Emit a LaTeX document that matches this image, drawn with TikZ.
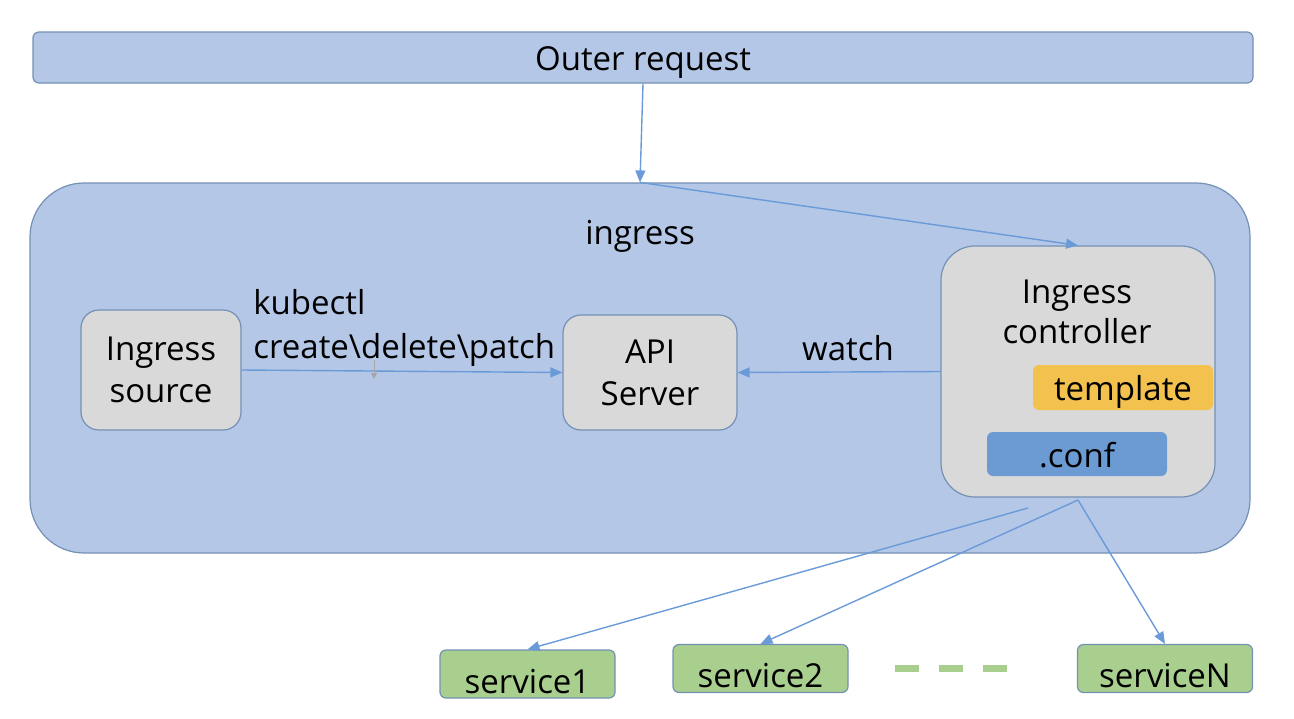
\documentclass[tikz,border=0pt]{standalone}
\usepackage{fontspec}
\setmainfont{Open Sans}
\usepackage{tikz}
\usetikzlibrary{arrows.meta, positioning, calc}
\definecolor{reqblue}{HTML}{B4C7E7}
\definecolor{edgeblue}{HTML}{7590B5}
\definecolor{boxgray}{HTML}{D9D9D9}
\definecolor{arrowblue}{HTML}{6A9BD8}
\definecolor{tmplyellow}{HTML}{F2C14E}
\definecolor{confblue}{HTML}{6B9BD2}
\definecolor{svcgreen}{HTML}{A9CF8E}

\begin{document}
\begin{tikzpicture}[
  x=0.5pt, y=-0.5pt,
  txt/.style={font=\fontsize{16.5}{21}\selectfont, align=center, inner sep=0pt},
  box/.style={txt, draw=edgeblue, fill=boxgray, line width=0.6pt, rounded corners=9pt},
  tag/.style={txt, rounded corners=3pt, minimum width=90pt, minimum height=22.5pt,
              text height=13pt, text depth=0pt},
  svc/.style={txt, draw=edgeblue, fill=svcgreen, line width=0.6pt, rounded corners=3pt,
              minimum width=87.5pt, minimum height=24pt, text height=19pt, text depth=0pt},
  arr/.style={-{Triangle[length=6pt,width=5pt]}, line width=0.7pt, draw=arrowblue}
]
\useasboundingbox (0,0) rectangle (1294,718);

% outer request and ingress area
\node[txt, draw=edgeblue, fill=reqblue, line width=0.6pt, rounded corners=3pt,
      minimum width=610pt, minimum height=25.5pt, text height=13pt, text depth=0pt]
      (req) at (643,57.5) {Outer request};
\node[draw=edgeblue, fill=reqblue, line width=0.6pt, rounded corners=27pt,
      minimum width=610pt, minimum height=185pt] (ingress) at (640,368) {};
\node[txt] (ingtitle) at (640,236) {ingress};

% boxes inside ingress
\node[box, minimum width=80pt, minimum height=60pt] (src) at (161,370) {Ingress\\source};
\node[box, minimum width=87pt, minimum height=57.5pt] (api) at (650,372.5) {API\\Server};
\node[box, rounded corners=17pt, minimum width=137pt, minimum height=125.5pt] (ctrl) at (1078,371.5) {};
\node[txt, font=\fontsize{16.5}{20}\selectfont] (ctrltitle) at (1077,312) {Ingress\\controller};
\node[tag, fill=tmplyellow] (tmpl) at (1123,387.5) {template};
\node[tag, fill=confblue, minimum height=22pt] (conf) at (1077,454) {.conf};

\node[txt, align=left, anchor=west, font=\fontsize{16.5}{22}\selectfont] (kubectl) at (253,328)
  {kubectl\\create\textbackslash delete\textbackslash patch};
\node[txt] (watch) at (848,348) {watch};

% services
\node[svc] (s1) at (527.5,674) {service1};
\node[svc] (s2) at (760.5,668.5) {service2};
\node[svc] (sN) at (1165,668.5) {serviceN};
\coordinate (dotsL) at (895,668);
\coordinate (dotsR) at (1010,668);
\draw[svcgreen, line width=3.5pt, dash pattern=on 12pt off 10pt] (dotsL) -- (dotsR);

% connectors
\draw[arr] (req.south) -- (ingress.north);
\draw[arr] (ingress.north) -- (ctrl.north);
\draw[arr] (src.east) -- (api.west);
\draw[arr] (ctrl.west) -- (api.east);
\coordinate (fanA) at (1028,508);
\coordinate (fanB) at (1078,500);
\draw[arr] (fanA) -- (s1.north);
\draw[arr] (fanB) -- (s2.north);
\draw[arr] (fanB) -- (sN.north);

% small grey handle under the label
\coordinate (hdlA) at (374,360);
\coordinate (hdlB) at (374,379);
\draw[-{Triangle[length=3pt,width=3pt]}, gray!70, line width=0.5pt] (hdlA) -- (hdlB);
\end{tikzpicture}
\end{document}
